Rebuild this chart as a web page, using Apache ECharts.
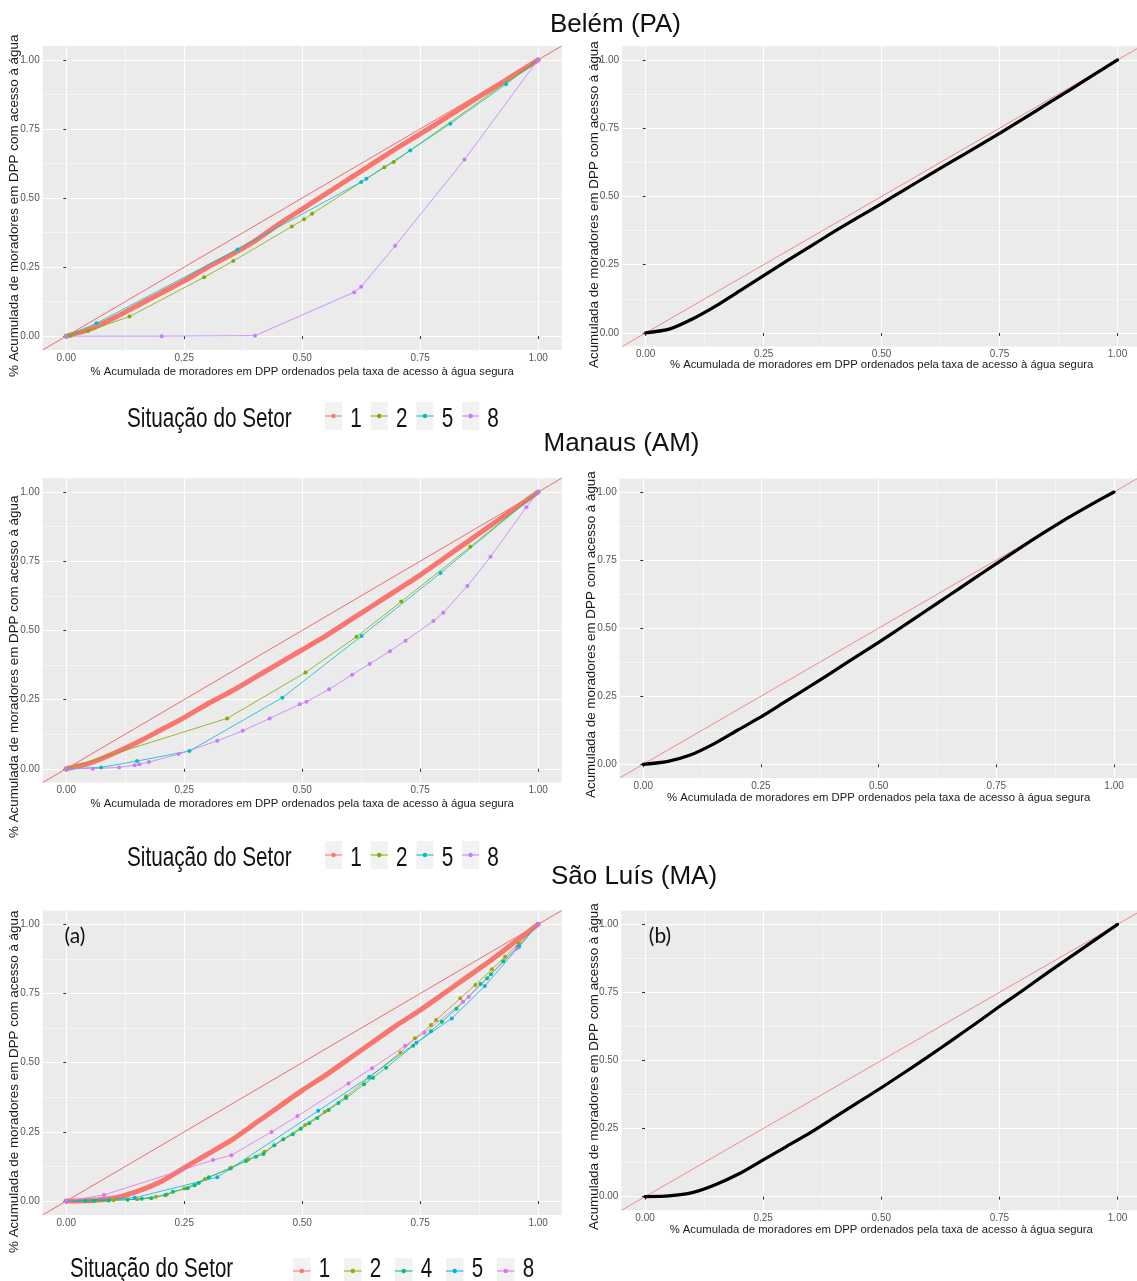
<!DOCTYPE html>
<html><head><meta charset="utf-8">
<script src="https://cdn.jsdelivr.net/npm/echarts@6/dist/echarts.min.js"></script>
<style>html,body{margin:0;padding:0;background:#fff}#c{width:1137px;height:1281px}</style>
</head><body><div id="c"></div>
<script>
// ---------------- data ----------------
const TICKS = [0, 0.25, 0.5, 0.75, 1];
const MINOR_TICKS = [0.125, 0.375, 0.625, 0.875];
const DIAGONAL = [[-0.05, -0.05], [1.05, 1.05]];
const CITY_TITLES = ['Belém (PA)', 'Manaus (AM)', 'São Luís (MA)'];
const X_TITLE = '% Acumulada de moradores em DPP ordenados pela taxa de acesso à água segura';
const Y_TITLE_LEFT = '% Acumulada de moradores em DPP com acesso à água';
const Y_TITLE_RIGHT = 'Acumulada de moradores em DPP com acesso à água';
const LEGEND_TITLE = 'Situação do Setor';
const GROUPS_AB = ['1', '2', '5', '8'];
const GROUPS_C = ['1', '2', '4', '5', '8'];
const PANEL_TAGS = ['(a)', '(b)'];

// Belém (PA)
const belem_g1 = [[0,0],[0.05,0.025],[0.1,0.065],[0.15,0.11],[0.2,0.155],[0.25,0.2],[0.3,0.25],[0.35,0.295],[0.4,0.345],[0.45,0.405],[0.5,0.46],[0.55,0.515],[0.6,0.57],[0.65,0.625],[0.7,0.68],[0.75,0.732],[0.8,0.785],[0.85,0.84],[0.9,0.893],[0.95,0.946],[1,1]];
const belem_g2 = [[0,0],[0.008,0.002],[0.046,0.019],[0.134,0.071],[0.292,0.213],[0.354,0.272],[0.478,0.397],[0.504,0.423],[0.521,0.443],[0.674,0.611],[0.694,0.63],[1,1]];
const belem_g5 = [[0,0],[0.064,0.047],[0.363,0.314],[0.625,0.558],[0.636,0.57],[0.729,0.672],[0.814,0.769],[0.932,0.912],[1,1]];
const belem_g8 = [[0,0],[0.202,0],[0.4,0.002],[0.61,0.159],[0.625,0.179],[0.697,0.327],[0.844,0.639],[1,1]];
const belem_total = [[0,0],[0.05,0.014],[0.1,0.052],[0.15,0.1],[0.2,0.155],[0.25,0.21],[0.3,0.265],[0.35,0.318],[0.4,0.372],[0.45,0.423],[0.5,0.474],[0.55,0.526],[0.6,0.578],[0.65,0.629],[0.7,0.68],[0.75,0.731],[0.8,0.784],[0.85,0.838],[0.9,0.891],[0.95,0.946],[1,1]];

// Manaus (AM)
const manaus_g1 = [[0,0],[0.05,0.02],[0.1,0.055],[0.15,0.095],[0.2,0.14],[0.25,0.185],[0.3,0.235],[0.35,0.28],[0.4,0.33],[0.45,0.38],[0.5,0.43],[0.55,0.48],[0.6,0.535],[0.65,0.59],[0.7,0.645],[0.75,0.7],[0.8,0.76],[0.85,0.82],[0.9,0.88],[0.95,0.94],[1,1]];
const manaus_g2 = [[0,0],[0.341,0.182],[0.507,0.348],[0.615,0.477],[0.71,0.604],[0.856,0.802],[1,1]];
const manaus_g5 = [[0,0],[0.074,0.005],[0.15,0.028],[0.261,0.064],[0.458,0.257],[0.626,0.48],[0.793,0.707],[1,1]];
const manaus_g8 = [[0,0],[0.056,0],[0.112,0.005],[0.145,0.013],[0.155,0.016],[0.175,0.024],[0.238,0.053],[0.32,0.101],[0.374,0.137],[0.431,0.182],[0.495,0.233],[0.509,0.242],[0.557,0.287],[0.606,0.34],[0.643,0.379],[0.686,0.425],[0.719,0.463],[0.778,0.534],[0.799,0.564],[0.85,0.66],[0.899,0.766],[0.975,0.945],[1,1]];
const manaus_total = [[0,0],[0.05,0.01],[0.1,0.034],[0.15,0.075],[0.2,0.125],[0.25,0.174],[0.3,0.228],[0.35,0.282],[0.4,0.337],[0.45,0.393],[0.5,0.448],[0.55,0.505],[0.6,0.563],[0.65,0.621],[0.7,0.679],[0.75,0.737],[0.8,0.794],[0.85,0.85],[0.9,0.903],[0.95,0.953],[1,1]];

// São Luís (MA)
const saoluis_g1 = [[0,0],[0.05,0.002],[0.1,0.01],[0.15,0.035],[0.2,0.07],[0.25,0.12],[0.3,0.17],[0.35,0.22],[0.4,0.28],[0.45,0.34],[0.5,0.4],[0.55,0.455],[0.6,0.515],[0.65,0.575],[0.7,0.635],[0.75,0.69],[0.8,0.75],[0.85,0.81],[0.9,0.87],[0.95,0.935],[1,1]];
const saoluis_g2 = [[0,0],[0.1,0.003],[0.15,0.007],[0.19,0.016],[0.213,0.024],[0.25,0.045],[0.294,0.08],[0.35,0.12],[0.386,0.15],[0.42,0.178],[0.506,0.275],[0.548,0.323],[0.593,0.379],[0.642,0.446],[0.708,0.537],[0.739,0.588],[0.773,0.636],[0.784,0.654],[0.835,0.733],[0.867,0.781],[0.902,0.838],[0.93,0.883],[0.959,0.931],[1,1]];
const saoluis_g4 = [[0,0],[0.04,0],[0.059,0],[0.09,0.002],[0.13,0.005],[0.16,0.008],[0.18,0.01],[0.21,0.022],[0.226,0.034],[0.257,0.046],[0.272,0.057],[0.281,0.065],[0.302,0.086],[0.347,0.118],[0.381,0.145],[0.402,0.16],[0.418,0.17],[0.441,0.202],[0.46,0.223],[0.48,0.241],[0.497,0.261],[0.515,0.281],[0.532,0.3],[0.556,0.329],[0.577,0.354],[0.593,0.372],[0.631,0.422],[0.65,0.446],[0.678,0.482],[0.735,0.561],[0.773,0.614],[0.796,0.648],[0.827,0.695],[0.878,0.784],[0.892,0.805],[0.9,0.82],[0.926,0.867],[0.957,0.919],[1,1]];
const saoluis_g5 = [[0,0],[0.145,0.012],[0.32,0.086],[0.534,0.326],[0.642,0.449],[0.742,0.572],[0.817,0.66],[0.887,0.777],[0.96,0.92],[1,1]];
const saoluis_g8 = [[0,0],[0.08,0.022],[0.311,0.148],[0.35,0.166],[0.435,0.25],[0.49,0.307],[0.598,0.425],[0.648,0.48],[0.718,0.561],[0.759,0.608],[0.841,0.72],[0.853,0.738],[0.955,0.913],[1,1]];
const saoluis_total = [[0,0],[0.05,0.003],[0.1,0.015],[0.15,0.045],[0.2,0.085],[0.25,0.135],[0.3,0.185],[0.35,0.235],[0.4,0.29],[0.45,0.345],[0.5,0.4],[0.55,0.457],[0.6,0.515],[0.65,0.575],[0.7,0.636],[0.75,0.698],[0.8,0.758],[0.85,0.82],[0.9,0.88],[0.95,0.94],[1,1]];

// ---------------- styling / layout ----------------
const FONT = "'Liberation Sans', Arial, Helvetica, sans-serif";
const PAL4 = ['#F8766D', '#7CAE00', '#00BFC4', '#C77CFF'];
const PAL5 = ['#F8766D', '#A3A500', '#00BF7D', '#00B0F6', '#E76BF3'];

const PANELS = [
  {grid: {left: 42.7, top: 46, width: 519, height: 304}, nameGap: 16, xTitle: true},
  {grid: {left: 622.1, top: 46.3, width: 519, height: 300.3}, nameGap: 13, xTitle: true},
  {grid: {left: 42.7, top: 478.2, width: 519, height: 304.4}, nameGap: 15.5, xTitle: true},
  {grid: {left: 619.7, top: 478.4, width: 517.9, height: 299.5}, nameGap: 14.5, xTitle: true},
  {grid: {left: 42.7, top: 910.5, width: 519, height: 304.4}, nameGap: 15, xTitle: false},
  {grid: {left: 621.4, top: 910.7, width: 519.75, height: 299.6}, nameGap: 14.5, xTitle: true}
];

const LEFT_SETS = [
  {panel: 0, groups: GROUPS_AB, colors: PAL4, data: [belem_g1, belem_g2, belem_g5, belem_g8], key: 'B'},
  {panel: 2, groups: GROUPS_AB, colors: PAL4, data: [manaus_g1, manaus_g2, manaus_g5, manaus_g8], key: 'M'},
  {panel: 4, groups: GROUPS_C, colors: PAL5, data: [saoluis_g1, saoluis_g2, saoluis_g4, saoluis_g5, saoluis_g8], key: 'S'}
];
const RIGHT_SETS = [
  {panel: 1, data: belem_total},
  {panel: 3, data: manaus_total},
  {panel: 5, data: saoluis_total}
];

const grids = [], xAxes = [], yAxes = [], series = [];
PANELS.forEach((p, i) => {
  grids.push(Object.assign({show: true, backgroundColor: '#EBEBEB', borderWidth: 0, containLabel: false, outerBoundsMode: 'none'}, p.grid));
  const common = {
    gridIndex: i, type: 'value', min: -0.05, max: 1.05,
    axisLine: {show: false}
  };
  xAxes.push(Object.assign({}, common, {
    position: 'bottom',
    axisTick: {show: true, customValues: TICKS, length: 3, lineStyle: {color: '#333', width: 1}},
    axisLabel: {customValues: TICKS, formatter: v => v.toFixed(2), fontSize: 10, color: '#555', margin: 3, fontFamily: FONT},
    splitLine: {show: true, lineStyle: {color: '#FFFFFF', width: 1.1}},
    name: p.xTitle ? X_TITLE : '', nameLocation: 'middle', nameGap: p.nameGap, nameMoveOverlap: false,
    nameTextStyle: {fontSize: 11.3, color: '#1A1A1A', fontFamily: FONT}
  }));
  xAxes.push(Object.assign({}, common, {
    position: 'top',
    axisTick: {show: false, customValues: MINOR_TICKS},
    axisLabel: {show: false, customValues: MINOR_TICKS},
    splitLine: {show: true, lineStyle: {color: '#FFFFFF', width: 0.5}}
  }));
  yAxes.push(Object.assign({}, common, {
    position: 'left',
    axisTick: {show: true, customValues: TICKS, length: 3, lineStyle: {color: '#333', width: 1}},
    axisLabel: {customValues: TICKS, formatter: v => v.toFixed(2), fontSize: 10, color: '#555', margin: 3, fontFamily: FONT},
    splitLine: {show: true, lineStyle: {color: '#FFFFFF', width: 1.1}}
  }));
  yAxes.push(Object.assign({}, common, {
    position: 'right',
    axisTick: {show: false, customValues: MINOR_TICKS},
    axisLabel: {show: false, customValues: MINOR_TICKS},
    splitLine: {show: true, lineStyle: {color: '#FFFFFF', width: 0.5}}
  }));
});

function diag(panel, color) {
  return {
    type: 'line', name: 'diag' + panel, data: DIAGONAL, xAxisIndex: panel * 2, yAxisIndex: panel * 2,
    symbol: 'none', silent: true, z: 2,
    lineStyle: {color: color, width: 1}
  };
}

LEFT_SETS.forEach(set => {
  series.push(diag(set.panel, '#F06A6A'));
  set.groups.forEach((g, k) => {
    const base = {
      type: 'line', name: set.key + g, data: set.data[k],
      xAxisIndex: set.panel * 2, yAxisIndex: set.panel * 2, silent: true
    };
    if (k === 0) {
      series.push(Object.assign(base, {
        symbol: 'none', z: 3, smooth: 0.2,
        lineStyle: {color: set.colors[k], width: 5, join: 'round', cap: 'round'}
      }));
    } else {
      series.push(Object.assign(base, {
        symbol: 'circle', symbolSize: 4, showSymbol: true, z: 4, smooth: false,
        itemStyle: {color: set.colors[k]},
        lineStyle: {color: set.colors[k], width: 1, opacity: 0.8}
      }));
    }
  });
});
RIGHT_SETS.forEach(set => {
  series.push(diag(set.panel, '#F08A8A'));
  series.push({
    type: 'line', name: 'total' + set.panel, data: set.data,
    xAxisIndex: set.panel * 2, yAxisIndex: set.panel * 2, silent: true,
    symbol: 'none', z: 3, smooth: 0.2,
    lineStyle: {color: '#000000', width: 3.2, join: 'round', cap: 'round'}
  });
});

// ---------------- graphic texts / legends ----------------
const graphics = [];
const TITLE_POS = [[615.5, 25], [621.5, 444], [634, 877]];
CITY_TITLES.forEach((t, i) => graphics.push({
  type: 'text', x: TITLE_POS[i][0], y: TITLE_POS[i][1], z: 50,
  style: {text: t, fontSize: 26, fontFamily: FONT, fill: '#111', textAlign: 'center', textVerticalAlign: 'middle', verticalAlign: 'middle'}
}));

const YT_POS = [
  {x: 14, y: 377, t: Y_TITLE_LEFT}, {x: 594, y: 368, t: Y_TITLE_RIGHT},
  {x: 14, y: 838, t: Y_TITLE_LEFT}, {x: 591, y: 798, t: Y_TITLE_RIGHT},
  {x: 14, y: 1253, t: Y_TITLE_LEFT}, {x: 594, y: 1230, t: Y_TITLE_RIGHT}
];
YT_POS.forEach(o => graphics.push({
  type: 'text', x: o.x, y: o.y, rotation: Math.PI / 2, z: 50,
  style: {text: o.t, fontSize: 13.4, fontFamily: FONT, fill: '#1A1A1A', textAlign: 'left', textVerticalAlign: 'middle', verticalAlign: 'middle'}
}));

const LEGENDS = [
  {titleX: 127, cy: 416, textY: 419, font: 28, sx: 0.74, boxX: [325, 370.7, 416.4, 462.1], boxW: 17, boxH: 28, groups: GROUPS_AB, colors: PAL4},
  {titleX: 127, cy: 855, textY: 858, font: 28, sx: 0.74, boxX: [325, 370.7, 416.4, 462.1], boxW: 17, boxH: 28, groups: GROUPS_AB, colors: PAL4},
  {titleX: 70, cy: 1271, textY: 1270, font: 27, sx: 0.76, boxX: [293, 344, 395, 446, 497], boxW: 17.5, boxH: 26, groups: GROUPS_C, colors: PAL5}
];
LEGENDS.forEach(L => {
  graphics.push({
    type: 'text', x: L.titleX, y: L.textY, scaleX: L.sx, z: 50,
    style: {text: LEGEND_TITLE, fontSize: L.font, fontFamily: FONT, fill: '#111', textAlign: 'left', textVerticalAlign: 'middle', verticalAlign: 'middle'}
  });
  L.groups.forEach((g, k) => {
    const bx = L.boxX[k];
    graphics.push({type: 'rect', z: 50, shape: {x: bx, y: L.cy - L.boxH / 2, width: L.boxW, height: L.boxH}, style: {fill: '#F2F2F2'}});
    graphics.push({type: 'line', z: 51, shape: {x1: bx, y1: L.cy, x2: bx + L.boxW, y2: L.cy}, style: {stroke: L.colors[k], lineWidth: 1.3, opacity: 0.8}});
    graphics.push({type: 'circle', z: 52, shape: {cx: bx + L.boxW / 2, cy: L.cy, r: 2.2}, style: {fill: L.colors[k]}});
    graphics.push({
      type: 'text', x: bx + L.boxW + 14, y: L.textY, scaleX: L.sx, z: 50,
      style: {text: g, fontSize: L.font, fontFamily: FONT, fill: '#111', textAlign: 'center', textVerticalAlign: 'middle', verticalAlign: 'middle'}
    });
  });
});

graphics.push({type: 'text', x: 75, y: 936, z: 50, style: {text: PANEL_TAGS[0], fontSize: 21, fontFamily: "Lato, 'Open Sans', sans-serif", fill: '#111', textAlign: 'center', textVerticalAlign: 'middle', verticalAlign: 'middle'}});
graphics.push({type: 'text', x: 660, y: 936, z: 50, style: {text: PANEL_TAGS[1], fontSize: 21, fontFamily: "Lato, 'Open Sans', sans-serif", fill: '#111', textAlign: 'center', textVerticalAlign: 'middle', verticalAlign: 'middle'}});

const chart = echarts.init(document.getElementById('c'), null, {renderer: 'canvas', width: 1137, height: 1281});
chart.setOption({
  animation: false,
  backgroundColor: '#FFFFFF',
  textStyle: {fontFamily: FONT},
  grid: grids,
  xAxis: xAxes,
  yAxis: yAxes,
  series: series,
  graphic: {elements: graphics}
});
</script>
</body></html>
